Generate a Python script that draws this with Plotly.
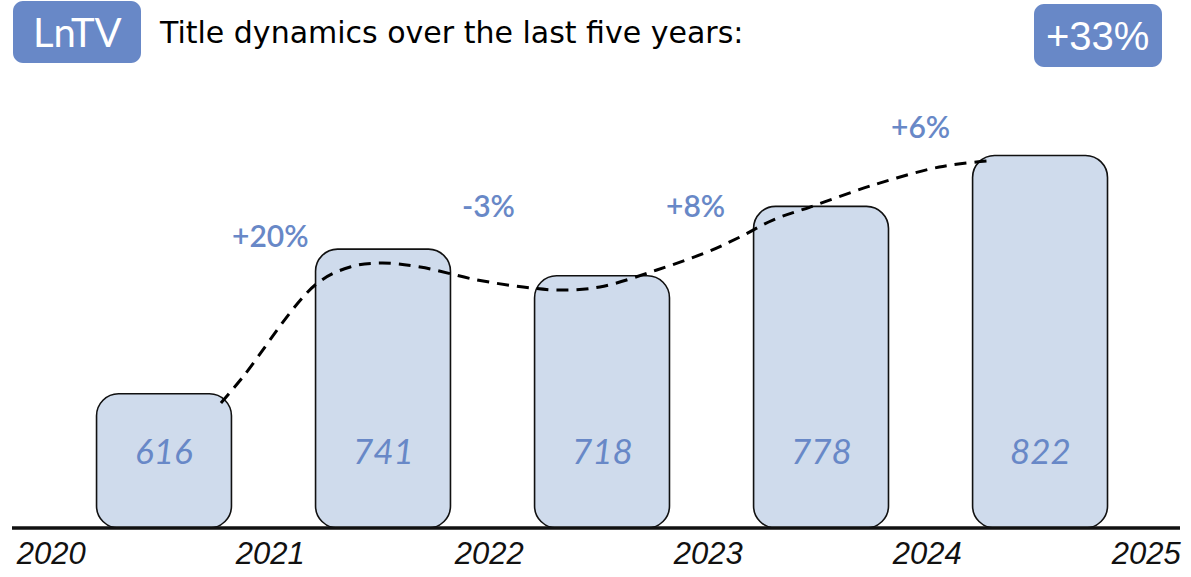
import plotly.graph_objects as go

# --- data -------------------------------------------------------------
years = ["2020", "2021", "2022", "2023", "2024", "2025"]
titles = [616, 741, 718, 778, 822]

# hand-drawn trend line through the bar tops (x in bar index units, y in titles)
trend_x = [0.26, 0.36, 0.69, 0.85, 0.99, 1.17, 1.43, 1.64, 1.80, 1.99,
           2.25, 2.48, 2.63, 2.78, 2.95, 3.24, 3.54, 3.76]
trend_y = [608, 630.5, 710, 725.6, 729, 725.6, 714.4, 708.3, 705.7, 708.3,
           723, 738.5, 751.5, 766.2, 777.4, 796.5, 812, 817.2]

# --- styling ----------------------------------------------------------
BLUE = "#6888c7"
BAR_FILL = "#cfdbec"
W, H = 1191, 577
M_L, M_R, M_T, M_B = 12, 11, 60, 49
X_RANGE = [-0.694, 4.639]
Y_RANGE = [500, 904.5]
BAR_HALF = 0.308

plot_w = W - M_L - M_R
plot_h = H - M_T - M_B
px_per_x = plot_w / (X_RANGE[1] - X_RANGE[0])
px_per_y = plot_h / (Y_RANGE[1] - Y_RANGE[0])


def rounded_path(x0, x1, y0, y1, rx, ry):
    """Rounded rectangle as an SVG path (corners as cubic curves)."""
    k = 0.45
    return (
        f"M {x0 + rx},{y0} L {x1 - rx},{y0} "
        f"C {x1 - rx * k},{y0} {x1},{y0 + ry * k} {x1},{y0 + ry} "
        f"L {x1},{y1 - ry} "
        f"C {x1},{y1 - ry * k} {x1 - rx * k},{y1} {x1 - rx},{y1} "
        f"L {x0 + rx},{y1} "
        f"C {x0 + rx * k},{y1} {x0},{y1 - ry * k} {x0},{y1 - ry} "
        f"L {x0},{y0 + ry} "
        f"C {x0},{y0 + ry * k} {x0 + rx * k},{y0} {x0 + rx},{y0} Z"
    )


def paper_x(px):
    return (px - M_L) / plot_w


def paper_y(py):
    return (H - M_B - py) / plot_h


fig = go.Figure()

shapes = []
radius_px = 22
for i, v in enumerate(titles):
    shapes.append(dict(
        type="path", xref="x", yref="y", layer="below",
        path=rounded_path(i - BAR_HALF, i + BAR_HALF, Y_RANGE[0], v,
                          radius_px / px_per_x, radius_px / px_per_y),
        fillcolor=BAR_FILL, line=dict(color="#111111", width=1.6),
    ))

# baseline (paper-referenced so the full stroke width is visible)
shapes.append(dict(type="line", xref="paper", yref="paper", x0=0, x1=1,
                   y0=0, y1=0,
                   line=dict(color="#111111", width=3.5), layer="above"))

# header badges (behind the header text)
badge_r = 10
for (bx0, bx1, by0, by1) in [(13, 141, 1, 63), (1034, 1162, 4, 67)]:
    shapes.append(dict(
        type="path", xref="paper", yref="paper", layer="below",
        path=rounded_path(paper_x(bx0), paper_x(bx1), paper_y(by1), paper_y(by0),
                          badge_r / plot_w, badge_r / plot_h),
        fillcolor=BLUE, line=dict(width=0),
    ))

fig.add_trace(go.Scatter(
    x=trend_x, y=trend_y, mode="lines",
    line=dict(color="#000000", width=3, dash="12px,8px", shape="spline", smoothing=1.0),
    hoverinfo="skip", showlegend=False,
))

annotations = []
# value labels inside the bars
for i, v in enumerate(titles):
    annotations.append(dict(
        x=i, y=567, xref="x", yref="y", text=str(v), showarrow=False,
        font=dict(family="Lato", size=35, color=BLUE, style="italic"),
    ))

# year-over-year change labels
change_pos = [(0.484, 753), (1.480, 779), (2.429, 779), (3.452, 847.5)]
for i in range(1, len(titles)):
    pct = round((titles[i] / titles[i - 1] - 1) * 100)
    cx, cy = change_pos[i - 1]
    annotations.append(dict(
        x=cx, y=cy, xref="x", yref="y", text=f"{pct:+d}%", showarrow=False,
        font=dict(family="Lato", size=30, color=BLUE, weight=600),
    ))

total = round((titles[-1] / titles[0] - 1) * 100)
annotations += [
    dict(x=paper_x(77), y=paper_y(32), xref="paper", yref="paper", text="LnTV",
         xanchor="center", yanchor="middle", showarrow=False,
         font=dict(family="Lato", size=40, color="white")),
    dict(x=paper_x(1097), y=paper_y(36), xref="paper", yref="paper", text=f"{total:+d}%",
         xanchor="center", yanchor="middle", showarrow=False,
         font=dict(family="Liberation Sans", size=40, color="white")),
    dict(x=paper_x(157), y=paper_y(33), xref="paper", yref="paper",
         xanchor="left", yanchor="middle",
         text="Title dynamics over the last five years:", showarrow=False,
         font=dict(family="DejaVu Sans", size=30, color="#000000")),
]

fig.update_layout(
    width=W, height=H,
    margin=dict(l=M_L, r=M_R, t=M_T, b=M_B, autoexpand=False),
    plot_bgcolor="white", paper_bgcolor="white",
    showlegend=False,
    shapes=shapes, annotations=annotations,
    xaxis=dict(range=X_RANGE, tickvals=[i - 0.515 for i in range(len(years))],
               ticktext=years, showgrid=False, zeroline=False, showline=False,
               ticks="", ticklabelstandoff=4, automargin=False,
               tickfont=dict(family="Liberation Sans", size=31,
                             color="#111111", style="italic"),
               fixedrange=True),
    yaxis=dict(range=Y_RANGE, visible=False, fixedrange=True, automargin=False),
)

fig.write_html("out.html")
